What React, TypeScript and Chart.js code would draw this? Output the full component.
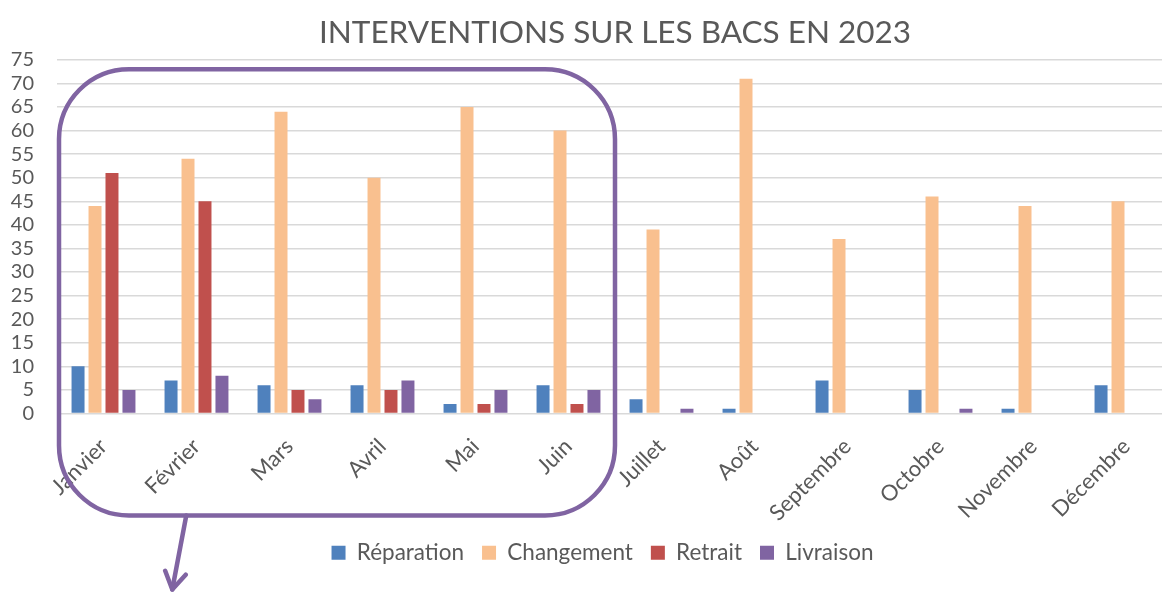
import React, { useEffect, useRef } from "react";
import { Chart, registerables } from "chart.js";

Chart.register(...registerables);

const months = ["Janvier", "Février", "Mars", "Avril", "Mai", "Juin", "Juillet", "Août", "Septembre", "Octobre", "Novembre", "Décembre"];
const reparation = [10, 7, 6, 6, 2, 6, 3, 1, 7, 5, 1, 6];
const changement = [44, 54, 64, 50, 65, 60, 39, 71, 37, 46, 44, 45];
const retrait = [51, 45, 5, 5, 2, 2, 0, 0, 0, 0, 0, 0];
const livraison = [5, 8, 3, 7, 5, 5, 1, 0, 0, 1, 0, 0];
const yMin = 0;
const yMax = 75;
const yStep = 5;
const titleText = "INTERVENTIONS SUR LES BACS EN 2023";

const FONT = "Lato, 'Open Sans', sans-serif";
const TEXT = "#595959";
const PURPLE_LINE = "#8064A2";

const W = 1205;
const H = 592;

const annotationPlugin = {
  id: "groupAnnotation",
  afterDraw(chart: any) {
    const xs = chart.scales.x;
    const ys = chart.scales.y;
    const ctx = chart.ctx;
    const band = (xs.right - xs.left) / months.length;
    const left = xs.left + 2;
    const right = xs.getPixelForValue(5) + band / 2;
    const top = ys.getPixelForValue(73);
    const bottom = ys.getPixelForValue(0) + 102;
    const r = 70;
    ctx.save();
    ctx.strokeStyle = PURPLE_LINE;
    ctx.lineWidth = 4.5;
    ctx.beginPath();
    ctx.moveTo(left + r, top);
    ctx.lineTo(right - r, top);
    ctx.arcTo(right, top, right, top + r, r);
    ctx.lineTo(right, bottom - r);
    ctx.arcTo(right, bottom, right - r, bottom, r);
    ctx.lineTo(left + r, bottom);
    ctx.arcTo(left, bottom, left, bottom - r, r);
    ctx.lineTo(left, top + r);
    ctx.arcTo(left, top, left + r, top, r);
    ctx.closePath();
    ctx.stroke();
    // arrow
    const sx = xs.getPixelForValue(1) - band * 0.11;
    const sy = bottom;
    const tx = sx - 14;
    const ty = sy + 74;
    ctx.lineWidth = 4.5;
    ctx.lineCap = "round";
    ctx.lineJoin = "round";
    ctx.beginPath();
    ctx.moveTo(sx, sy);
    ctx.lineTo(tx, ty);
    ctx.stroke();
    const ang = Math.atan2(ty - sy, tx - sx);
    const hl = 20;
    ctx.beginPath();
    ctx.moveTo(tx - hl * Math.cos(ang - 0.55), ty - hl * Math.sin(ang - 0.55));
    ctx.lineTo(tx, ty);
    ctx.lineTo(tx - hl * Math.cos(ang + 0.55), ty - hl * Math.sin(ang + 0.55));
    ctx.stroke();
    ctx.restore();
  },
};

export default function App() {
  const ref = useRef<HTMLCanvasElement | null>(null);

  useEffect(() => {
    document.body.style.margin = "0";
    document.body.style.overflow = "hidden";
    document.documentElement.style.overflow = "hidden";
    const canvas = ref.current;
    if (!canvas) return;
    const chart = new Chart(canvas, {
      type: "bar",
      data: {
        labels: months,
        datasets: [
          { label: "Réparation", data: reparation, backgroundColor: "#4F81BD" },
          { label: "Changement", data: changement, backgroundColor: "#F9C08F" },
          { label: "Retrait", data: retrait, backgroundColor: "#C0504D" },
          { label: "Livraison", data: livraison, backgroundColor: "#8064A2" },
        ],
      },
      options: {
        responsive: false,
        animation: false,
        devicePixelRatio: 1,
        layout: { padding: { left: 0, right: 0, top: 0, bottom: 18 } },
        datasets: {
          bar: { categoryPercentage: 0.73, barPercentage: 0.765 },
        },
        plugins: {
          title: {
            display: true,
            text: titleText,
            fullSize: false,
            color: TEXT,
            font: { family: FONT, size: 31.5, weight: "normal" as any, lineHeight: 1.2 },
            padding: { top: 14, bottom: 8 },
          },
          legend: {
            position: "bottom",
            labels: {
              color: TEXT,
              font: { family: FONT, size: 22.5 },
              boxWidth: 14,
              boxHeight: 14,
              padding: 18,
            },
          },
          tooltip: { enabled: false },
        },
        scales: {
          x: {
            grid: { display: false },
            border: { display: true, color: "#d9d9d9" },
            ticks: {
              color: TEXT,
              font: { family: FONT, size: 22 },
              minRotation: 45,
              maxRotation: 45,
              padding: 12,
              autoSkip: false,
            },
            afterFit: (s: any) => {
              s.height = 110;
            },
          },
          y: {
            min: yMin,
            max: yMax,
            grid: { color: "#d9d9d9", lineWidth: 1.5, drawTicks: false },
            border: { display: false },
            ticks: {
              stepSize: yStep,
              autoSkip: false,
              color: TEXT,
              font: { family: FONT, size: 20, lineHeight: 1 },
              padding: 23,
            },
            afterFit: (s: any) => {
              s.width = 57;
            },
          },
          spacer: {
            type: "linear",
            position: "right",
            display: true,
            grid: { display: false, drawTicks: false },
            border: { display: false },
            ticks: { display: false },
            afterFit: (s: any) => {
              s.width = 32;
            },
          },
        },
      },
      plugins: [annotationPlugin],
    });
    return () => chart.destroy();
  }, []);

  return (
    <div style={{ width: W, height: H, overflow: "hidden" }}>
      <canvas ref={ref} width={W} height={H} style={{ width: W, height: H, display: "block" }} />
    </div>
  );
}
